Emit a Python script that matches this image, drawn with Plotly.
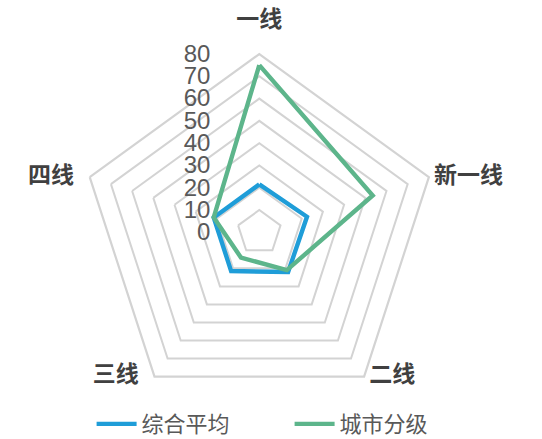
import plotly.graph_objects as go

# City tiers around the radar, clockwise from the top
categories = ["一线", "新一线", "二线", "三线", "四线"]
avg_values = [21.5, 22.5, 22, 21.5, 21.5]      # 综合平均
tier_values = [75, 53.5, 21, 14, 21.5]         # 城市分级
radial_ticks = [0, 10, 20, 30, 40, 50, 60, 70, 80]
r_max = 80

W, H = 542, 439
cx, cy, R = 259.3, 232.3, 178.3

def closed(seq):
    return list(seq) + [seq[0]]

fig = go.Figure()
fig.add_trace(go.Scatterpolar(
    r=closed(avg_values), theta=closed(categories), name="综合平均",
    mode="lines", line=dict(color="#1f9dd8", width=4.4),
))
fig.add_trace(go.Scatterpolar(
    r=closed(tier_values), theta=closed(categories), name="城市分级",
    mode="lines", line=dict(color="#5db58b", width=4.4),
))

# Side category names sit beside the outer ring's vertices;
# the top one is drawn by the angular axis itself.
label_font = dict(size=23, color="#404040", family="Noto Sans CJK SC", weight="bold")
side_pos = {"新一线": "middle right", "二线": "middle right",
            "三线": "middle left", "四线": "middle left"}
side_cats = [c for c in categories if c in side_pos]
side_text = [(" " + c) if side_pos[c].endswith("right") else (c + "   ") for c in side_cats]
fig.add_trace(go.Scatterpolar(
    r=[r_max] * len(side_cats), theta=side_cats,
    mode="text", text=side_text, textposition=[side_pos[c] for c in side_cats],
    textfont=label_font,
    cliponaxis=False, showlegend=False, hoverinfo="skip",
))

fig.update_layout(
    width=W, height=H,
    margin=dict(l=0, r=0, t=0, b=0, autoexpand=False),
    paper_bgcolor="white",
    plot_bgcolor="white",
    font=dict(family="Liberation Sans, Arial, Noto Sans CJK SC", color="#595959"),
    polar=dict(
        domain=dict(x=[(cx - R) / W, (cx + R) / W],
                    y=[1 - (cy + R) / H, 1 - (cy - R) / H]),
        bgcolor="white",
        gridshape="linear",
        radialaxis=dict(
            range=[0, r_max], tickvals=radial_ticks,
            angle=90, tickangle=90, side="counterclockwise",
            showline=False, ticks="outside", ticklen=40, tickcolor="rgba(0,0,0,0)",
            gridcolor="#d3d3d3", gridwidth=2.2,
            tickfont=dict(size=24, color="#595959", family="Liberation Sans, Arial"),
        ),
        angularaxis=dict(
            rotation=90, direction="clockwise",
            showgrid=False, showline=True, linecolor="#d3d3d3", linewidth=2.2,
            tickvals=categories,
            ticktext=[c if c not in side_pos else "" for c in categories],
            ticks="outside", ticklen=17, tickcolor="rgba(0,0,0,0)",
            tickfont=label_font,
        ),
    ),
    legend=dict(
        orientation="h", x=0.169, xanchor="left", y=0.034, yanchor="middle",
        font=dict(size=22, color="#595959", family="Noto Sans CJK SC"),
        itemwidth=40, entrywidth=143, entrywidthmode="pixels",
    ),
    showlegend=True,
)

fig.write_html("out.html")
